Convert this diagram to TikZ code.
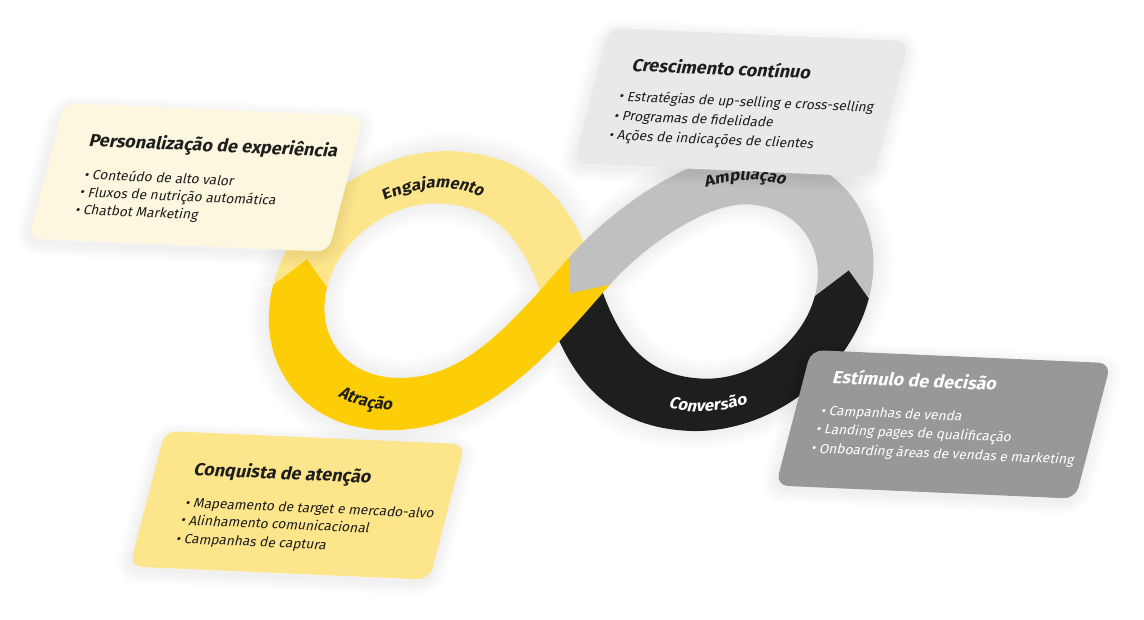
\documentclass[tikz,border=0pt]{standalone}
\usepackage{fontspec}
\setmainfont{Fira Sans}
\usepackage{tikz}
\usetikzlibrary{calc, decorations.text}

\definecolor{ink}{HTML}{1E1E1E}
\definecolor{lightyellow}{HTML}{FDE58B}
\definecolor{darkyellow}{HTML}{FDCD07}
\definecolor{lightgrey}{HTML}{C0C0C0}
\definecolor{cream}{HTML}{FEF7DF}
\definecolor{paper}{HTML}{E9E9E9}
\definecolor{midgrey}{HTML}{989898}

\newcommand{\bandfont}{\fontsize{16.5}{16.5}\selectfont\bfseries}
\newcommand{\bandtip}[3]{%
  \fill [#3] ($(#1)+(#2+180:0.8)+(#2+90:27)$) -- ($(#1)+(#2:27)$) -- ($(#1)+(#2+180:0.8)+(#2-90:27)$) -- cycle;}

\begin{document}
\begin{tikzpicture}[x=1pt, y=1pt,
  band/.style   = {line width=54pt},
  skewed/.style = {transform canvas={cm={0.999,-0.0439,0.251,0.968,(#1)}}},
  card/.style   = {rounded corners=12pt},
  haze/.style   = {draw=black, opacity=0.012},
  ttl/.style    = {anchor=base west, inner sep=0pt, font=\fontsize{18}{18}\selectfont\bfseries},
  itm/.style    = {anchor=base west, inner sep=0pt, font=\fontsize{13.7}{13.7}\selectfont},
  label/.style  = {decorate, decoration={text along path, text align=center, text color=#1}},
]

\useasboundingbox (0,0) rectangle (1144,619);
\fill [white] (0,0) rectangle (1144,619);

\begin{scope}[skewed={571.5pt,327.4pt}]
\coordinate (o)  at (0,0);
\coordinate (g)  at (12.5,21.7);
\coordinate (a)  at (-270,-6);
\coordinate (t)  at (-153,111);
\coordinate (lb) at (-153,-123);
\coordinate (b)  at (269,7);
\coordinate (rt) at (152,124);
\coordinate (rb) at (152,-110);

\foreach \w in {60,68,76,84,92}
  \draw [haze, line width=\w pt] (a) to [out=90, in=180] (t) to [out=0, in=120] (o)
    to [out=300, in=180] (rb) to [out=0, in=270] (b) to [out=90, in=0] (rt)
    to [out=180, in=60, looseness=0.8] (g) -- (o) to [out=240, in=0] (lb) to [out=180, in=270] (a);

\draw [band, lightyellow] (a) to [out=90, in=180] (t) to [out=0, in=120] (o);
\draw [band, ink]         (o) to [out=300, in=180] (rb) to [out=0, in=270] (b);
\draw [band, lightgrey]   (b) to [out=90, in=0] (rt) to [out=180, in=60, looseness=0.8] (g);
\draw [band, darkyellow]  (g) -- (o) to [out=240, in=0] (lb) to [out=180, in=270] (a);

\bandtip{b}{90}{ink}
\bandtip{g}{240}{lightgrey}
\bandtip{a}{90}{darkyellow}

\path [label=ink, decoration={text={|\bandfont|Engajamento}}]
  (-153,-6) ++(130:106) arc [start angle=130, end angle=60, radius=106];
\path [label=ink, decoration={text={|\bandfont|Atração}}]
  (-153,-6) ++(234:123) arc [start angle=234, end angle=284, radius=123];
\path [label=white, decoration={text={|\bandfont|Conversão}}]
  (152,7) ++(250:124) arc [start angle=250, end angle=302, radius=124];
\path [label=ink, decoration={text={|\bandfont|Ampliação}}]
  (152,7) ++(121:115) arc [start angle=121, end angle=67, radius=115];
\end{scope}

\begin{scope}[skewed={64pt,516pt}]
\foreach \w in {4,10,16,22,28}
  \draw [haze, card, line width=\w pt] (0,-5) rectangle (300,-143);
\fill [card, cream] (0,0) rectangle (300,-140);
\node [ttl, text=ink] (p)  at (35,-43)  {Personalização de experiência};
\node [itm, text=ink] (p1) at (39,-77)  {• Conteúdo de alto valor};
\node [itm, text=ink] (p2) at (39,-95)  {• Fluxos de nutrição automática};
\node [itm, text=ink] (p3) at (39,-113) {• Chatbot Marketing};
\end{scope}

\begin{scope}[skewed={609pt,591pt}]
\foreach \w in {4,10,16,22,28}
  \draw [haze, card, line width=\w pt] (0,-5) rectangle (300,-143);
\fill [card, paper] (0,0) rectangle (300,-140);
\node [ttl, text=ink] (c)  at (33,-43)  {Crescimento contínuo};
\node [itm, text=ink] (c1) at (28,-74)  {• Estratégias de up-selling e cross-selling};
\node [itm, text=ink] (c2) at (28,-94)  {• Programas de fidelidade};
\node [itm, text=ink] (c3) at (28,-114) {• Ações de indicações de clientes};
\end{scope}

\begin{scope}[skewed={811pt,269pt}]
\foreach \w in {4,10,16,22,28}
  \draw [haze, card, line width=\w pt] (0,-5) rectangle (300,-143);
\fill [card, midgrey] (0,0) rectangle (300,-140);
\node [ttl, text=white] (e)  at (29,-33)  {Estímulo de decisão};
\node [itm, text=white] (e1) at (26,-66)  {• Campanhas de venda};
\node [itm, text=white] (e2) at (26,-85)  {• Landing pages de qualificação};
\node [itm, text=white] (e3) at (26,-105) {• Onboarding áreas de vendas e marketing};
\end{scope}

\begin{scope}[skewed={165pt,188pt}]
\foreach \w in {4,10,16,22,28}
  \draw [haze, card, line width=\w pt] (0,-5) rectangle (300,-143);
\fill [card, lightyellow] (0,0) rectangle (300,-140);
\node [ttl, text=ink] (q)  at (39,-44)  {Conquista de atenção};
\node [itm, text=ink] (q1) at (39,-77)  {• Mapeamento de target e mercado-alvo};
\node [itm, text=ink] (q2) at (39,-95)  {• Alinhamento comunicacional};
\node [itm, text=ink] (q3) at (39,-114) {• Campanhas de captura};
\end{scope}

\end{tikzpicture}
\end{document}
